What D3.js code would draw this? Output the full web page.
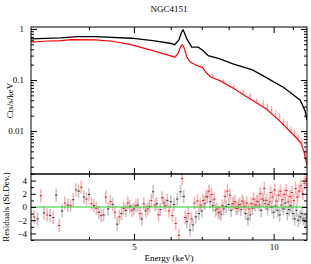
<!DOCTYPE html>
<html>
<head>
<meta charset="utf-8">
<script src="https://cdn.jsdelivr.net/npm/d3@7"></script>
<style>
  body { margin: 0; background: #fff; }
  svg text { font-family: "Liberation Serif", "DejaVu Serif", serif; fill: #000; }
</style>
</head>
<body>
<script>
// spectrum (model) values, energy in keV, Cts/s/keV
var specE_black = [3.0, 3.48, 3.78, 4.13, 4.93, 5.49, 5.98, 6.12, 6.25, 6.33, 6.38, 6.43, 6.5, 6.66, 6.88, 7.05, 7.23, 7.66, 8.17, 9.0, 9.67, 10.0, 10.47, 11.0, 11.41, 11.69, 11.8];
var specBlack   = [0.637, 0.666, 0.706, 0.706, 0.657, 0.59, 0.524, 0.49, 0.61, 0.85, 0.96, 0.82, 0.637, 0.44, 0.44, 0.375, 0.30, 0.258, 0.206, 0.158, 0.11, 0.092, 0.073, 0.052, 0.040, 0.0246, 0.0164];

var specE_red = [3.0, 3.2, 3.48, 3.67, 4.13, 4.49, 4.93, 5.49, 5.98, 6.12, 6.21, 6.3, 6.35, 6.39, 6.45, 6.5, 6.62, 6.85, 7.02, 7.14, 7.32, 7.66, 8.17, 8.87, 9.65, 10.3, 11.2, 11.45, 11.63, 11.8];
var specRed   = [0.549, 0.573, 0.59, 0.617, 0.609, 0.573, 0.492, 0.375, 0.30, 0.279, 0.32, 0.44, 0.49, 0.46, 0.36, 0.279, 0.222, 0.19, 0.177, 0.143, 0.114, 0.097, 0.0697, 0.0435, 0.027, 0.0158, 0.0073, 0.0058, 0.0039, 0.0021];

// red data error bars that stick out above the model at high energy
var redErrE  = [7.4, 7.8, 8.2, 8.6, 8.9, 9.2, 9.5, 9.7, 9.9, 10.1, 10.3, 10.5, 10.7, 10.9, 11.1, 11.3, 11.5, 11.7];
var redErrLo = [0.108, 0.087, 0.067, 0.051, 0.042, 0.035, 0.029, 0.0255, 0.0216, 0.0183, 0.0156, 0.013, 0.011, 0.0093, 0.0079, 0.0066, 0.0051, 0.003];
var redErrHi = [0.128, 0.104, 0.082, 0.066, 0.056, 0.044, 0.040, 0.034, 0.031, 0.025, 0.022, 0.0175, 0.0155, 0.0125, 0.0108, 0.0088, 0.0072, 0.0048];

// residuals (st.dev.)
var resE_black = [3.0,3.1,3.2,3.3,3.4,3.5,3.6,3.7,3.8,3.9,4.0,4.1,4.2,4.3,4.4,4.5,4.6,4.7,4.8,4.9,5.0,5.1,5.2,5.3,5.4,5.5,5.6,5.7,5.8,5.9,6.0,6.1,6.2,6.3,6.4,6.5,6.6,6.7,6.8,6.9,7.0,7.1,7.2,7.3,7.4,7.5,7.6,7.7,7.8,7.9,8.0,8.1,8.2,8.3,8.4,8.5,8.6,8.7,8.8,8.9,9.0,9.1,9.2,9.3,9.4,9.5,9.6,9.7,9.8,9.9,10.0,10.1,10.2,10.3,10.4,10.5,10.6,10.7,10.8,10.9,11.0,11.1,11.2,11.3,11.4,11.5,11.6,11.7,11.8];
var resBlack = [3.0,-1.8,-0.9,-1.3,1.8,-0.6,0.3,1.1,2.4,1.5,1.9,0.2,-0.8,-1.2,-0.3,0.4,-2.6,-1.0,-0.5,0.1,-0.3,0.3,-1.8,-0.6,0.1,2.3,0.5,-0.4,0.6,1.0,0.8,0.4,1.2,2.3,1.6,-2.2,-3.5,-2.7,-1.5,-1.0,-0.6,0.5,1.5,0.8,0.2,-0.5,-0.9,-1.1,-0.3,0.1,0.4,-0.5,0.5,-0.2,0.2,-0.4,0.6,-1.0,-1.8,-1.2,-0.2,0.4,0.9,0.3,-0.5,1.0,0.5,-0.3,0.8,0.0,-0.8,0.2,-0.5,-1.2,0.3,-0.3,0.6,-1.0,-0.4,0.2,-1.0,-1.8,-0.5,-2.0,-1.5,-1.0,-1.8,-2.2,-1.6];

var resE_red = [3.05,3.15,3.25,3.35,3.45,3.55,3.65,3.75,3.85,3.95,4.05,4.15,4.25,4.35,4.45,4.55,4.65,4.75,4.85,4.95,5.05,5.15,5.25,5.35,5.45,5.55,5.65,5.75,5.85,5.95,6.05,6.15,6.25,6.35,6.45,6.55,6.65,6.75,6.85,6.95,7.05,7.15,7.25,7.35,7.45,7.55,7.65,7.75,7.85,7.95,8.05,8.15,8.25,8.35,8.45,8.55,8.65,8.75,8.85,8.95,9.05,9.15,9.25,9.35,9.45,9.55,9.65,9.75,9.85,9.95,10.05,10.15,10.25,10.35,10.45,10.55,10.65,10.75,10.85,10.95,11.05,11.15,11.25,11.35,11.45,11.55,11.65,11.75];
var resRed = [-1.5,1.7,-1.2,-1.6,-2.8,0.6,0.2,2.6,3.0,1.2,0.5,-0.2,-1.3,1.5,0.8,-0.8,-1.5,-0.2,0.6,-0.5,0.2,-1.0,0.5,-0.3,1.0,0.3,-1.2,1.4,0.2,-0.6,-1.3,-2.5,-4.3,4.3,-1.6,-1.0,-1.8,0.6,0.9,0.3,1.0,1.6,2.4,1.9,1.2,-0.3,-0.8,0.2,1.6,2.4,1.8,0.5,0.8,-0.2,0.4,0.9,0.1,0.6,-0.3,0.5,1.2,0.3,0.8,2.0,1.2,2.8,1.0,0.4,2.2,1.5,2.6,0.9,1.8,2.4,1.1,1.9,2.5,0.8,1.6,2.2,1.0,2.8,1.5,2.4,3.2,2.0,3.6,4.2];

var yMainMajor = [1, 0.1, 0.01];
var yMainLabels = ["1", "0.1", "0.01"];
var xMajor = [5, 10];
var xMinor = [4, 6, 7, 8, 9, 11];
var yResMajor = [-4, -2, 0, 2, 4];

var W = 311, H = 264;
var L = 31, R = 307, T = 27, M = 174, B = 240;

var svg = d3.select("body").append("svg").attr("width", W).attr("height", H);

var x = d3.scaleLog().domain([3, 11.8]).range([L, R]);
var yMain = d3.scaleLog().domain([0.00144, 1.09]).range([M, T]);
var yRes = d3.scaleLinear().domain([-5, 5]).range([B, M]);

// minor ticks on the log y axis
var yMainMinor = [];
[0.001, 0.01, 0.1].forEach(function(d) {
  for (var k = 2; k <= 9; k++) {
    var v = d * k;
    if (v >= 0.00144 && v <= 1.09) yMainMinor.push(v);
  }
});
var yResMinor = [-5, -3, -1, 1, 3, 5];

var clipMain = svg.append("clipPath").attr("id", "cm");
clipMain.append("rect").attr("x", L).attr("y", T).attr("width", R - L).attr("height", M - T);
var clipRes = svg.append("clipPath").attr("id", "cr");
clipRes.append("rect").attr("x", L).attr("y", M).attr("width", R - L).attr("height", B - M);

// ---- spectrum panel
var gMain = svg.append("g").attr("clip-path", "url(#cm)");

gMain.selectAll(".rerr").data(redErrE).enter().append("line")
  .attr("x1", function(d) { return x(d); }).attr("x2", function(d) { return x(d); })
  .attr("y1", function(d, i) { return yMain(redErrLo[i]); })
  .attr("y2", function(d, i) { return yMain(redErrHi[i]); })
  .attr("stroke", "#ff9090").attr("stroke-width", 0.9);
gMain.selectAll(".rtick").data(redErrE).enter().append("line")
  .attr("x1", function(d) { return x(d) - 1.2; }).attr("x2", function(d) { return x(d) + 1.2; })
  .attr("y1", function(d, i) { return yMain(Math.sqrt(redErrLo[i] * redErrHi[i])); })
  .attr("y2", function(d, i) { return yMain(Math.sqrt(redErrLo[i] * redErrHi[i])); })
  .attr("stroke", "#ff9090").attr("stroke-width", 0.8);

var line = d3.line().x(function(d) { return x(d[0]); }).y(function(d) { return yMain(d[1]); });

gMain.append("path").datum(d3.zip(specE_red, specRed)).attr("d", line)
  .attr("fill", "none").attr("stroke", "#ff0000").attr("stroke-width", 1.2);
gMain.append("path").datum(d3.zip(specE_black, specBlack)).attr("d", line)
  .attr("fill", "none").attr("stroke", "#000").attr("stroke-width", 1.3);

// ---- residual panel
var gRes = svg.append("g").attr("clip-path", "url(#cr)");

function drawRes(E, vals, light, dark) {
  gRes.selectAll(null).data(E).enter().append("line")
    .attr("x1", function(d) { return x(d); }).attr("x2", function(d) { return x(d); })
    .attr("y1", function(d, i) { return yRes(vals[i] - 1); })
    .attr("y2", function(d, i) { return yRes(vals[i] + 1); })
    .attr("stroke", light).attr("stroke-width", 1.6);
  gRes.selectAll(null).data(E).enter().append("line")
    .attr("x1", function(d) { return x(d) - 1.2; }).attr("x2", function(d) { return x(d) + 1.2; })
    .attr("y1", function(d, i) { return yRes(vals[i]); })
    .attr("y2", function(d, i) { return yRes(vals[i]); })
    .attr("stroke", dark).attr("stroke-width", 1);
}
drawRes(resE_black, resBlack, "#c4c4c4", "#333");
drawRes(resE_red, resRed, "#ffb0b0", "#e02020");

gRes.append("line").attr("x1", L).attr("x2", R).attr("y1", yRes(0)).attr("y2", yRes(0))
  .attr("stroke", "#22cc22").attr("stroke-width", 1);

// ---- axes (ticks point inward)
function ax(g, axis) {
  g.call(axis);
  g.select(".domain").remove();
  g.selectAll(".tick line").attr("stroke", "#000");
  g.selectAll("text").style("font-size", "9px").attr("fill", "#000");
}

// main y
ax(svg.append("g").attr("transform", "translate(" + L + ",0)"),
  d3.axisLeft(yMain).tickValues(yMainMajor).tickSize(-6).tickPadding(7)
    .tickFormat(function(d, i) { return yMainLabels[i]; }));
ax(svg.append("g").attr("transform", "translate(" + L + ",0)"),
  d3.axisLeft(yMain).tickValues(yMainMinor).tickSize(-3).tickFormat(""));
ax(svg.append("g").attr("transform", "translate(" + R + ",0)"),
  d3.axisRight(yMain).tickValues(yMainMajor).tickSize(-6).tickFormat(""));
ax(svg.append("g").attr("transform", "translate(" + R + ",0)"),
  d3.axisRight(yMain).tickValues(yMainMinor).tickSize(-3).tickFormat(""));

// residual y
ax(svg.append("g").attr("transform", "translate(" + L + ",0)"),
  d3.axisLeft(yRes).tickValues(yResMajor).tickSize(-5).tickPadding(4));
ax(svg.append("g").attr("transform", "translate(" + L + ",0)"),
  d3.axisLeft(yRes).tickValues(yResMinor).tickSize(-3).tickFormat(""));
ax(svg.append("g").attr("transform", "translate(" + R + ",0)"),
  d3.axisRight(yRes).tickValues(yResMajor).tickSize(-5).tickFormat(""));
ax(svg.append("g").attr("transform", "translate(" + R + ",0)"),
  d3.axisRight(yRes).tickValues(yResMinor).tickSize(-3).tickFormat(""));

// x ticks on every horizontal edge
[[T, "top"], [M, "bottom"], [M, "top"], [B, "bottom"]].forEach(function(p, j) {
  var mk = p[1] == "top" ? d3.axisTop : d3.axisBottom;
  var gy = svg.append("g").attr("transform", "translate(0," + p[0] + ")");
  ax(gy, mk(x).tickValues(xMajor).tickSize(-6).tickPadding(4)
    .tickFormat(j == 3 ? d3.format("d") : ""));
  ax(svg.append("g").attr("transform", "translate(0," + p[0] + ")"),
    mk(x).tickValues(xMinor).tickSize(-3).tickFormat(""));
});

// frames
svg.append("rect").attr("x", L).attr("y", T).attr("width", R - L).attr("height", M - T)
  .attr("fill", "none").attr("stroke", "#000").attr("stroke-width", 1);
svg.append("rect").attr("x", L).attr("y", M).attr("width", R - L).attr("height", B - M)
  .attr("fill", "none").attr("stroke", "#000").attr("stroke-width", 1);

// labels
svg.append("text").attr("x", (L + R) / 2).attr("y", 12).attr("text-anchor", "middle")
  .style("font-size", "9px").text("NGC4151");
svg.append("text").attr("x", (L + R) / 2).attr("y", 261).attr("text-anchor", "middle")
  .style("font-size", "9px").text("Energy (keV)");
svg.append("text").attr("transform", "translate(13," + ((T + M) / 2) + ") rotate(-90)")
  .attr("text-anchor", "middle").style("font-size", "9px").text("Cts/s/keV");
svg.append("text").attr("transform", "translate(9," + ((M + B) / 2) + ") rotate(-90)")
  .attr("text-anchor", "middle").style("font-size", "9px").text("Residuals (St.Dev.)");
</script>
</body>
</html>
